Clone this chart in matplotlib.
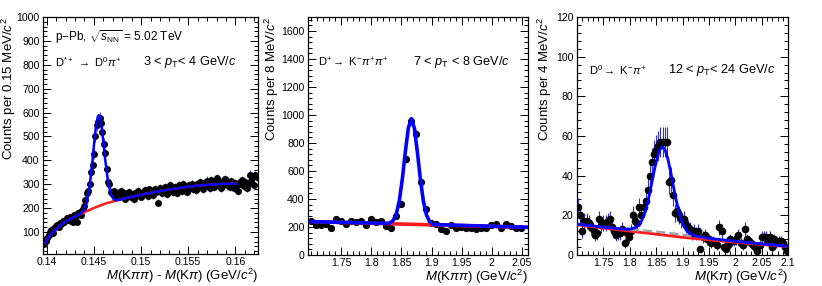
import numpy as np
import matplotlib.pyplot as plt
from matplotlib.ticker import MultipleLocator, FixedLocator, FuncFormatter

plt.rcParams['font.family'] = ['Liberation Sans', 'DejaVu Sans']
plt.rcParams['mathtext.fontset'] = 'custom'
plt.rcParams['mathtext.rm'] = 'Liberation Sans'
plt.rcParams['mathtext.it'] = 'Liberation Sans:italic'
plt.rcParams['mathtext.bf'] = 'Liberation Sans:bold'

# ---- D*+ panel: delta mass, 0.15 MeV bins
dstar_x0, dstar_step = 0.13975, 0.00015
dstar_counts = [50, 62, 75, 88, 100, 108, 96, 118, 125, 130, 122, 138, 135, 145, 140,
                152, 158, 150, 162, 148, 140, 172, 165, 140, 178, 185, 172, 195, 210,
                235, 262, 270, 300, 352, 380, 425, 500, 548, 560, 578, 555, 520, 470,
                430, 362, 310, 300, 268, 262, 270, 255, 258,
                265, 248, 272, 255, 262, 240, 258, 250, 268, 245, 255, 238, 262, 250,
                270, 255, 248, 265, 258, 275, 262, 250, 278, 265, 270, 255, 282, 268,
                222, 275, 285, 262, 278, 290, 270, 258, 282, 295, 275, 268, 288, 280,
                262, 295, 285, 272, 300, 290, 278, 268, 295, 285, 302, 280, 292, 275,
                300, 288, 310, 295, 282, 305, 292, 315, 298, 285, 318, 302, 290, 310,
                325, 298, 308, 285, 315, 302, 320, 295, 308, 290, 312, 300, 285, 305,
                295, 270, 310, 300, 318, 292, 308, 285, 300, 340, 312, 332, 295, 338, 330]
dstar_bkg_x = [0.1399, 0.1400, 0.1403, 0.1407, 0.1412, 0.1417, 0.1422, 0.1428, 0.1434,
               0.1439, 0.1444, 0.1449, 0.1456, 0.1463, 0.1470, 0.1476, 0.1485, 0.1495,
               0.1505, 0.1520, 0.1535, 0.1550, 0.1565, 0.1580, 0.1590, 0.1600]
dstar_bkg_y = [55, 67, 86, 101, 120, 136, 149, 161, 172, 181, 190, 199, 210, 220, 228,
               234, 243, 252, 260, 271, 281, 290, 296, 300, 302, 303]
dstar_fit_x = [0.1399, 0.1400, 0.1403, 0.1407, 0.1412, 0.1417, 0.1422, 0.1428, 0.1434,
               0.1436, 0.1439, 0.1442, 0.1445, 0.1448, 0.1450, 0.1452, 0.1454, 0.1455,
               0.1456, 0.1458, 0.1460, 0.1462, 0.1465, 0.1468, 0.1471, 0.1474, 0.1476,
               0.1485, 0.1495, 0.1505, 0.1520, 0.1535, 0.1550, 0.1565, 0.1580, 0.1590,
               0.1600]
dstar_fit_y = [55, 67, 86, 101, 120, 136, 149, 161, 172, 178, 189, 218, 278, 380, 463,
               536, 581, 589, 584, 545, 478, 402, 308, 256, 237, 234, 234, 243, 252, 260,
               271, 281, 290, 296, 300, 302, 303]

# ---- D+ panel: 8 MeV bins
dplus_x0, dplus_step = 1.7005, 0.0083
dplus_counts = [243, 214, 214, 221, 190, 255, 245, 221, 245, 238, 245, 214, 257, 233,
                245, 207, 190, 278, 364, 683, 957, 864, 524, 328, 226, 221, 183, 174,
                214, 190, 200, 195, 195, 183, 190, 195, 217, 221, 195, 224, 205, 195, 195]
dplus_bkg_x = [1.700, 2.057]
dplus_bkg_y = [238, 198]
dplus_fit_x = [1.700, 1.8265, 1.8315, 1.8365, 1.8415, 1.8465, 1.8515, 1.8565, 1.8615,
               1.8665, 1.8715, 1.8765, 1.8815, 1.8865, 1.8915, 1.8965, 1.9015, 1.9065,
               2.057]
dplus_fit_y = [238, 226, 230, 248, 293, 387, 543, 737, 907, 974, 906, 735, 540, 383,
               287, 241, 222, 217, 198]
dplus_ticks = [1.75, 1.8, 1.85, 1.9, 1.95, 2.0, 2.05]

# ---- D0 panel: 4 MeV bins
dzero_x0, dzero_step = 1.702, 0.004
dzero_counts = [24, 20, 12, 17, 17, 16, 14, 13, 10, 11, 18, 15, 16, 16, 17, 18, 14, 12,
                10, 11, 11, 13, 6, 11, 9, 12, 20, 17, 16, 24, 20, 24, 27, 33, 40, 47, 51,
                53, 55, 57, 57, 57, 57, 37, 38, 30, 21, 22, 20, 18, 18, 15, 14, 13, 11,
                12, 11, 12, 3, 9, 10, 8, 8, 6, 7, 6, 5, 14, 12, 4, 3, 5, 8, 7, 7, 8, 10,
                6, 5, 13, 8, 7, 6, 5, 4, 2, 5, 9, 9, 9, 7, 9, 4, 8, 6, 7, 7, 6, 4, 2]
dzero_bkg_x = [1.70, 1.75, 1.80, 1.85, 1.90, 1.95, 2.00, 2.05, 2.10]
dzero_bkg_y = [15.2, 13.6, 12.0, 10.5, 8.9, 7.6, 6.4, 5.3, 4.2]
dzero_refl_y = [15.6, 14.0, 12.8, 11.8, 10.2, 8.4, 6.9, 5.6, 4.4]
dzero_fit_x = [1.700, 1.750, 1.790, 1.802, 1.812, 1.817, 1.822, 1.827, 1.832, 1.837,
               1.842, 1.847, 1.852, 1.857, 1.862, 1.867, 1.872, 1.877, 1.882, 1.887,
               1.892, 1.897, 1.902, 1.907, 1.912, 1.922, 1.950, 2.000, 2.050, 2.100]
dzero_fit_y = [15.6, 14.0, 13.0, 13.1, 14.0, 15.1, 17.1, 20.2, 24.6, 30.2, 36.7, 43.4,
               49.2, 53.2, 54.6, 52.9, 48.6, 42.5, 35.6, 28.8, 22.9, 18.2, 14.8, 12.5,
               11.2, 9.7, 8.4, 6.9, 5.6, 4.4]
dzero_ticks = [1.75, 1.8, 1.85, 1.9, 1.95, 2.0, 2.05, 2.1]

fmt = FuncFormatter(lambda v, p: '%g' % round(v, 4))


def root_axes(ax, xmaj, xmin, ymaj, ymin):
    if isinstance(xmaj, list):
        ax.xaxis.set_major_locator(FixedLocator(xmaj))
    else:
        ax.xaxis.set_major_locator(MultipleLocator(xmaj))
    ax.xaxis.set_minor_locator(MultipleLocator(xmin))
    ax.yaxis.set_major_locator(MultipleLocator(ymaj))
    ax.yaxis.set_minor_locator(MultipleLocator(ymin))
    ax.xaxis.set_major_formatter(fmt)
    ax.yaxis.set_major_formatter(fmt)
    ax.tick_params(which='both', direction='in', top=True, right=True,
                   labelsize=7.6, width=0.7, pad=2.5)
    ax.tick_params(which='major', length=6)
    ax.tick_params(which='minor', length=3)
    for s in ax.spines.values():
        s.set_linewidth(0.9)


def draw_hist(ax, x0, step, counts, ms=4.2, elw=0.6):
    x = x0 + step * np.arange(len(counts))
    y = np.array(counts, dtype=float)
    ax.errorbar(x, y, yerr=np.sqrt(y), fmt='o', color='black', ms=ms,
                ecolor='#3030d0', elinewidth=elw, capsize=0, zorder=2)


def labels(ax, ylab, xlab, ylab_x):
    ax.set_ylabel(ylab, fontsize=9.5, loc='top')
    ax.yaxis.set_label_coords(ylab_x, 1.0)
    ax.set_xlabel(xlab, fontsize=9.5, loc='right', labelpad=-0.5)


fig = plt.figure(figsize=(8.22, 2.86), dpi=100)
ax1 = fig.add_axes([0.0523, 0.1119, 0.2616, 0.8287])
ax2 = fig.add_axes([0.3747, 0.1084, 0.2676, 0.8322])
ax3 = fig.add_axes([0.7020, 0.1084, 0.2567, 0.8322])

# left
draw_hist(ax1, dstar_x0, dstar_step, dstar_counts, ms=4.0)
ax1.plot(dstar_bkg_x, dstar_bkg_y, color='#ff1a1a', lw=1.8, zorder=3)
ax1.plot(dstar_fit_x, dstar_fit_y, color='#0000ff', lw=1.8, zorder=4)
ax1.set_xlim(0.1396, 0.1624)
ax1.set_ylim(8, 1000)
root_axes(ax1, 0.005, 0.001, 100, 20)
labels(ax1, r'Counts per 0.15 MeV/$c^2$',
       r'$M$(K$\pi\pi$) - $M$(K$\pi$) (GeV/$c^2$)', -0.116)
ax1.text(0.056, 0.916, r'p$-$Pb, $\sqrt{s_{\rm NN}}$ = 5.02 TeV', transform=ax1.transAxes,
         fontsize=8.5, va='center')
ax1.text(0.056, 0.81, r'D$^{*+}$ $\rightarrow$ D$^{0}$$\pi^{+}$', transform=ax1.transAxes,
         fontsize=8, va='center')
ax1.text(0.465, 0.81, r'3 < $p_{\rm T}$< 4 GeV/$c$', transform=ax1.transAxes,
         fontsize=9.2, va='center')

# middle
draw_hist(ax2, dplus_x0, dplus_step, dplus_counts, ms=4.2)
ax2.plot(dplus_bkg_x, dplus_bkg_y, color='#ff1a1a', lw=2.6, zorder=3)
ax2.plot(dplus_fit_x, dplus_fit_y, color='#0000ff', lw=2.6, zorder=4)
ax2.set_xlim(1.695, 2.06)
ax2.set_ylim(0, 1700)
root_axes(ax2, dplus_ticks, 0.01, 200, 40)
labels(ax2, r'Counts per 8 MeV/$c^2$', r'$M$(K$\pi\pi$) (GeV/$c^2$)', -0.125)
ax2.text(0.047, 0.81, r'D$^{+}$$\rightarrow$ K$^{-}$$\pi^{+}\pi^{+}$',
         transform=ax2.transAxes, fontsize=8, va='center')
ax2.text(0.479, 0.81, r'7 < $p_{\rm T}$ < 8 GeV/$c$', transform=ax2.transAxes,
         fontsize=9.2, va='center')

# right
draw_hist(ax3, dzero_x0, dzero_step, dzero_counts, ms=4.5, elw=0.8)
ax3.plot(dzero_bkg_x, dzero_bkg_y, color='#ff1a1a', lw=2.0, zorder=3)
ax3.plot(dzero_bkg_x, dzero_refl_y, color='#a0a0a0', lw=1.8, ls='--', zorder=3)
ax3.plot(dzero_fit_x, dzero_fit_y, color='#0000ff', lw=2.0, zorder=4)
ax3.set_xlim(1.70, 2.10)
ax3.set_ylim(0, 120)
root_axes(ax3, dzero_ticks, 0.01, 20, 4)
labels(ax3, r'Counts per 4 MeV/$c^2$', r'$M$(K$\pi$) (GeV/$c^2$)', -0.108)
ax3.text(0.058, 0.777, r'D$^{0}$$\rightarrow$ K$^{-}$$\pi^{+}$',
         transform=ax3.transAxes, fontsize=8, va='center')
ax3.text(0.433, 0.777, r'12 < $p_{\rm T}$< 24 GeV/$c$', transform=ax3.transAxes,
         fontsize=9.2, va='center')

plt.savefig('out.png', dpi=100)
